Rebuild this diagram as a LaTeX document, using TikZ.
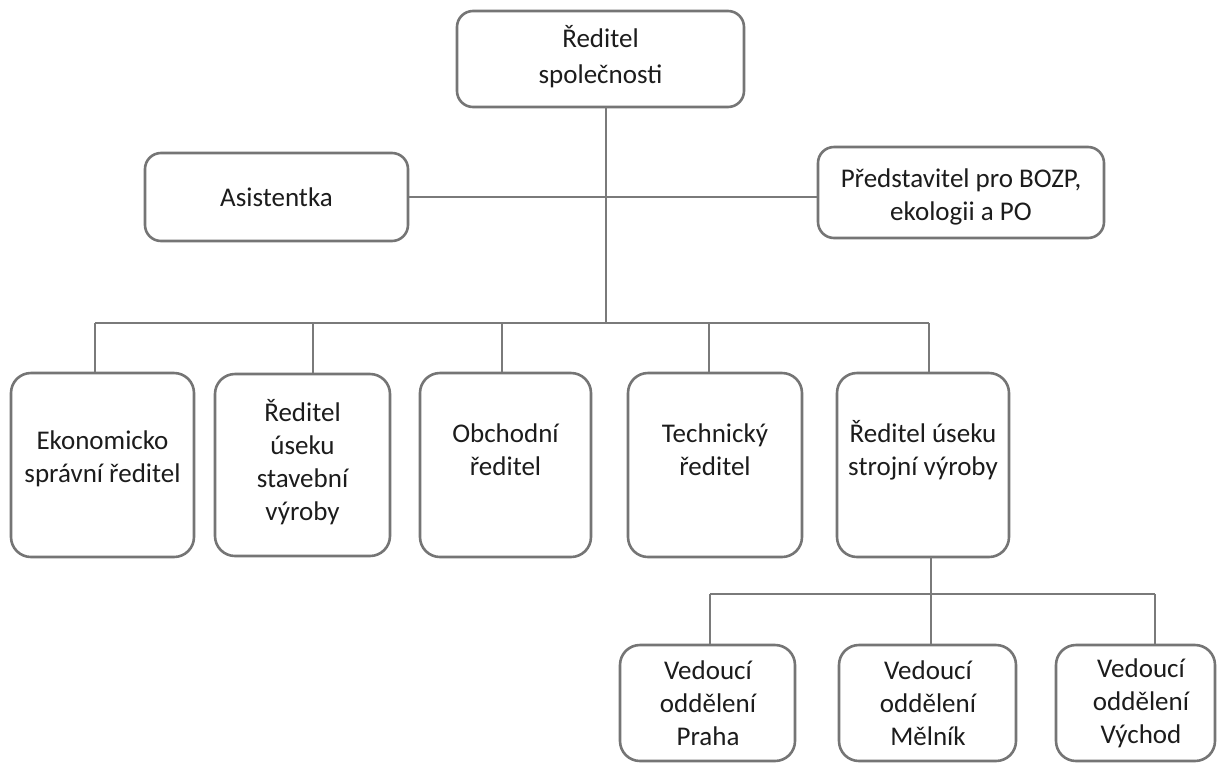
\documentclass[tikz,border=0pt]{standalone}
\usepackage{fontspec}
\setmainfont{Carlito}
\begin{document}
\begin{tikzpicture}[x=1pt,y=-1pt,
  box/.style={draw=boxgray, line width=2.6pt, rounded corners=20pt, inner sep=0pt, fill=white},
  lbl/.style={text=txt, align=center, inner sep=0pt, font=\fontsize{27}{33}\selectfont},
  conn/.style={draw=linegray, line width=1.8pt}]
\definecolor{boxgray}{HTML}{757575}
\definecolor{linegray}{HTML}{7A7A7A}
\definecolor{txt}{HTML}{1C1C1C}
\useasboundingbox (0,0) rectangle (1219,764);
% boxes
\node[box, minimum width=287pt, minimum height=96pt, rounded corners=16pt] (top) at (600.5,59) {};
\node[box, minimum width=263pt, minimum height=88pt, rounded corners=16pt] (asist) at (276.5,197) {};
\node[box, minimum width=286pt, minimum height=91pt, rounded corners=16pt] (bozp) at (961,192.5) {};
\node[box, minimum width=183pt, minimum height=184pt] (r1) at (102.5,465) {};
\node[box, minimum width=175pt, minimum height=182pt] (r2) at (302.5,465) {};
\node[box, minimum width=171pt, minimum height=184pt] (r3) at (505.5,465) {};
\node[box, minimum width=174pt, minimum height=184pt] (r4) at (715,465) {};
\node[box, minimum width=172pt, minimum height=184pt] (r5) at (923,465) {};
\node[box, minimum width=175pt, minimum height=116pt] (b1) at (707.5,703) {};
\node[box, minimum width=177pt, minimum height=116pt] (b2) at (927.5,703) {};
\node[box, minimum width=159pt, minimum height=116pt] (b3) at (1135.5,703) {};
% texts
\node[lbl, font=\fontsize{27}{36}\selectfont] (ttop) at (600.5,57) {Ředitel\\společnosti};
\node[lbl] (tasist) at (276.5,197) {Asistentka};
\node[lbl] (tbozp) at (961,197) {Představitel pro BOZP,\\ekologii a PO};
\node[lbl] (t1) at (102.5,459) {Ekonomicko\\správní ředitel};
\node[lbl] (t2) at (302.5,462) {Ředitel\\úseku\\stavební\\výroby};
\node[lbl] (t3) at (505.5,450) {Obchodní\\ředitel};
\node[lbl] (t4) at (715,450) {Technický\\ředitel};
\node[lbl] (t5) at (923,450) {Ředitel úseku\\strojní výroby};
\node[lbl] (tb1) at (708,703) {Vedoucí\\oddělení\\Praha};
\node[lbl] (tb2) at (928,703) {Vedoucí\\oddělení\\Mělník};
\node[lbl] (tb3) at (1141,703) {Vedoucí\\oddělení\\Východ};
% junctions
\coordinate (m0) at (606,107);
\coordinate (bus) at (606,323);
\coordinate (j1) at (95,323);
\coordinate (j2) at (313,323);
\coordinate (j3) at (502,323);
\coordinate (j4) at (709,323);
\coordinate (j5) at (929,323);
\coordinate (s0) at (931,557);
\coordinate (sbus) at (931,594);
\coordinate (k1) at (710,594);
\coordinate (k3) at (1155,594);
% connectors
\draw[conn] (m0) -- (bus);
\draw[conn] (asist.east) -- (bozp.west |- asist.east);
\draw[conn] (j1) -- (j5);
\draw[conn] (j1) -- (j1 |- r1.north);
\draw[conn] (j2) -- (j2 |- r2.north);
\draw[conn] (j3) -- (j3 |- r3.north);
\draw[conn] (j4) -- (j4 |- r4.north);
\draw[conn] (j5) -- (j5 |- r5.north);
\draw[conn] (s0) -- (sbus);
\draw[conn] (k1) -- (k3);
\draw[conn] (k1) -- (k1 |- b1.north);
\draw[conn] (sbus) -- (sbus |- b2.north);
\draw[conn] (k3) -- (k3 |- b3.north);
\end{tikzpicture}
\end{document}
